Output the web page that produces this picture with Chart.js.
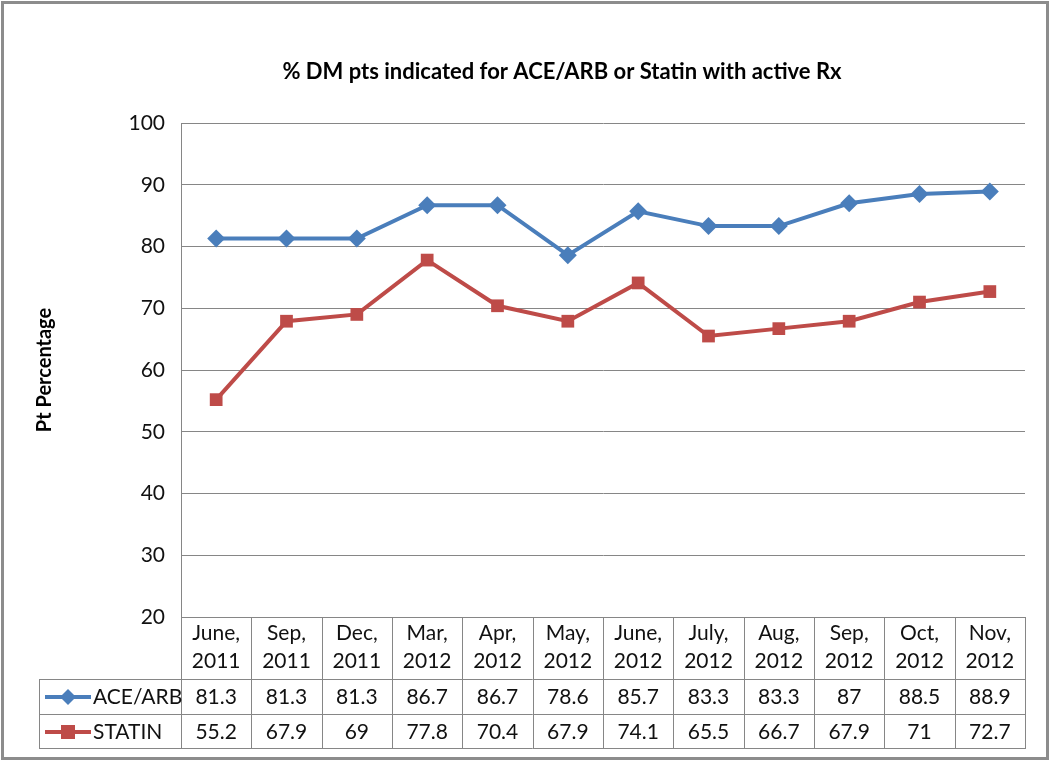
<!DOCTYPE html>
<html>
<head>
<meta charset="utf-8">
<script src="https://cdn.jsdelivr.net/npm/chart.js@4"></script>
<style>
  body { margin: 0; background: #fff; }
  canvas { display: block; }
</style>
</head>
<body>
<canvas id="chart" width="1050" height="761"></canvas>
<script>
// Data
const months = ['June,', 'Sep,', 'Dec,', 'Mar,', 'Apr,', 'May,', 'June,', 'July,', 'Aug,', 'Sep,', 'Oct,', 'Nov,'];
const years = ['2011', '2011', '2011', '2012', '2012', '2012', '2012', '2012', '2012', '2012', '2012', '2012'];
const aceArb = [81.3, 81.3, 81.3, 86.7, 86.7, 78.6, 85.7, 83.3, 83.3, 87, 88.5, 88.9];
const statin = [55.2, 67.9, 69, 77.8, 70.4, 67.9, 74.1, 65.5, 66.7, 67.9, 71, 72.7];
const yTicks = [20, 30, 40, 50, 60, 70, 80, 90, 100];

const FONT = 'Lato, "Open Sans", sans-serif';
const blue = '#4A7EBB';
const red = '#BE4B48';
const gridColor = '#868686';

// Frame, title, axis title and the data table under the plot
const tablePlugin = {
    id: 'dataTable',
    beforeDraw: (chart) => {
        const {ctx} = chart;
        ctx.save();
        ctx.fillStyle = '#fff';
        ctx.fillRect(0, 0, chart.width, chart.height);
        ctx.strokeStyle = '#8c8c8c';
        ctx.lineWidth = 3;
        ctx.strokeRect(2.5, 2.5, chart.width - 5, chart.height - 5);
        ctx.restore();
    },
    afterDraw: (chart) => {
        const {ctx, chartArea, scales} = chart;
        const {left, right, bottom} = chartArea;
        const x = scales.x;
        const legendLeft = 39;
        const row1 = bottom + 62;
        const row2 = row1 + 35;
        const row3 = row2 + 34;
        const colW = (right - left) / months.length;

        ctx.save();
        // title
        ctx.fillStyle = '#000';
        ctx.font = 'bold 22px ' + FONT;
        ctx.textAlign = 'center';
        ctx.textBaseline = 'middle';
        ctx.fillText('% DM pts indicated for ACE/ARB or Statin with active Rx', 562, 72);

        // y axis title
        ctx.save();
        ctx.translate(45, 370);
        ctx.rotate(-Math.PI / 2);
        ctx.font = 'bold 20px ' + FONT;
        ctx.fillText('Pt Percentage', 0, 0);
        ctx.restore();

        // table grid
        ctx.strokeStyle = gridColor;
        ctx.lineWidth = 1;
        ctx.beginPath();
        ctx.moveTo(left + 0.5, bottom);
        ctx.lineTo(left + 0.5, row3);
        for (let i = 1; i <= months.length; i++) {
            const gx = Math.round(left + colW * i) + 0.5;
            ctx.moveTo(gx, bottom);
            ctx.lineTo(gx, row3);
        }
        ctx.moveTo(legendLeft + 0.5, row1);
        ctx.lineTo(legendLeft + 0.5, row3);
        [row1, row2, row3].forEach(ry => {
            ctx.moveTo(legendLeft, ry + 0.5);
            ctx.lineTo(right + 1, ry + 0.5);
        });
        ctx.stroke();

        // category labels and values
        ctx.fillStyle = '#111';
        ctx.font = '21px ' + FONT;
        for (let i = 0; i < months.length; i++) {
            const cx = x.getPixelForValue(i);
            ctx.fillText(months[i], cx, bottom + 16);
            ctx.fillText(years[i], cx, bottom + 44);
            ctx.fillText(String(aceArb[i]), cx, row1 + 18);
            ctx.fillText(String(statin[i]), cx, row2 + 18);
        }

        // legend keys
        const keys = [
            {label: 'ACE/ARB', color: blue, y: row1 + 18, shape: 'diamond'},
            {label: 'STATIN', color: red, y: row2 + 18, shape: 'square'}
        ];
        keys.forEach(k => {
            ctx.strokeStyle = k.color;
            ctx.fillStyle = k.color;
            ctx.lineWidth = 4;
            ctx.beginPath();
            ctx.moveTo(45, k.y);
            ctx.lineTo(91, k.y);
            ctx.stroke();
            ctx.beginPath();
            if (k.shape === 'diamond') {
                ctx.moveTo(68, k.y - 8);
                ctx.lineTo(76, k.y);
                ctx.lineTo(68, k.y + 8);
                ctx.lineTo(60, k.y);
            } else {
                ctx.rect(61, k.y - 7, 14, 14);
            }
            ctx.closePath();
            ctx.fill();
            ctx.fillStyle = '#111';
            ctx.textAlign = 'left';
            ctx.fillText(k.label, 93, k.y);
            ctx.textAlign = 'center';
        });
        ctx.restore();
    }
};

const ctx = document.getElementById('chart').getContext('2d');
const chart = new Chart(ctx, {
    type: 'line',
    data: {
        labels: months.map((m, i) => m + ' ' + years[i]),
        datasets: [{
            label: 'ACE/ARB',
            data: aceArb,
            borderColor: blue,
            backgroundColor: blue,
            borderWidth: 4,
            pointStyle: 'rectRot',
            pointRadius: 9,
            pointBorderWidth: 0,
            tension: 0
        }, {
            label: 'STATIN',
            data: statin,
            borderColor: red,
            backgroundColor: red,
            borderWidth: 4,
            pointStyle: 'rect',
            pointRadius: 9,
            pointBorderWidth: 0,
            tension: 0
        }]
    },
    options: {
        responsive: false,
        animation: false,
        layout: {
            padding: {left: 0, right: 25, top: 123, bottom: 144}
        },
        plugins: {
            legend: {display: false},
            tooltip: {enabled: false}
        },
        scales: {
            x: {
                offset: true,
                grid: {display: false, drawTicks: false},
                border: {display: false},
                ticks: {display: false},
                afterFit: (scale) => { scale.height = 0; }
            },
            y: {
                min: 20,
                max: 100,
                afterBuildTicks: (scale) => {
                    scale.ticks = yTicks.map(v => ({value: v}));
                },
                afterFit: (scale) => { scale.width = 181; },
                grid: {color: gridColor, drawTicks: false},
                border: {color: gridColor},
                ticks: {
                    color: '#111',
                    padding: 16,
                    font: {family: FONT, size: 21}
                }
            }
        }
    },
    plugins: [tablePlugin]
});
</script>
</body>
</html>
